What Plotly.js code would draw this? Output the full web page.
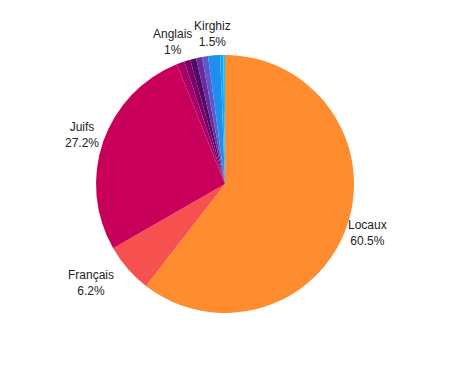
<!DOCTYPE html>
<html>
<head>
<meta charset="utf-8">
<script src="https://cdn.plot.ly/plotly-3.0.1.min.js"></script>
<style>html,body{margin:0;padding:0;background:#fff;}</style>
</head>
<body>
<div id="chart" style="width:450px;height:368px;"></div>
<script>
const labels = ["Locaux", "Français", "Juifs", "Anglais", "Autres 1", "Autres 2", "Autres 3", "Autres 4", "Kirghiz", "Autres 5", "Autres 6"];
const values = [60.5, 6.2, 27.2, 1.0, 0.75, 0.75, 0.75, 0.75, 1.5, 0.4, 0.2];
const shown = [true, true, true, true, false, false, false, false, true, false, false];
const colors = ["#FF8C2E", "#F7514F", "#C8005A", "#A8006A", "#7A0068", "#520A62", "#6A2AA0", "#5C5AC8", "#1F8EF0", "#10A8FF", "#00CCFF"];
// label styling: extra horizontal nudge in px (style only)
const labelXShift = [0, -20, 0, 0, 0, 0, 0, 0, 0, 0, 0];

const W = 450, H = 368;
const margin = {l: 80, r: 80, t: 55, b: 55};
const plotW = W - margin.l - margin.r, plotH = H - margin.t - margin.b;
const R = Math.min(plotW, plotH) / 2;
const labelR = R * 1.17;

const total = values.reduce((a, b) => a + b, 0);
const annotations = [];
let cum = 0;
values.forEach((v, i) => {
  const mid = (cum + v / 2) / total;
  cum += v;
  if (!shown[i]) return;
  const ang = mid * 2 * Math.PI; // clockwise from top
  const dx = Math.sin(ang) * labelR;
  const dy = -Math.cos(ang) * labelR;
  const pct = parseFloat((v / total * 100).toFixed(1));
  annotations.push({
    xref: "paper", yref: "paper",
    x: 0.5 + dx / plotW,
    y: 0.5 - dy / plotH,
    xanchor: "center", yanchor: "middle",
    xshift: labelXShift[i],
    showarrow: false,
    align: "center",
    text: labels[i] + "<br>" + pct + "%",
    font: {family: "Liberation Sans, Arial, sans-serif", size: 12, color: "#222"}
  });
});

Plotly.newPlot("chart", [{
  type: "pie",
  labels: labels,
  values: values,
  sort: false,
  direction: "clockwise",
  rotation: 0,
  marker: {colors: colors},
  textinfo: "none",
  hoverinfo: "label+percent",
  showlegend: false
}], {
  width: W,
  height: H,
  margin: margin,
  paper_bgcolor: "#fff",
  showlegend: false,
  annotations: annotations
}, {displayModeBar: false, staticPlot: true});
</script>
</body>
</html>
